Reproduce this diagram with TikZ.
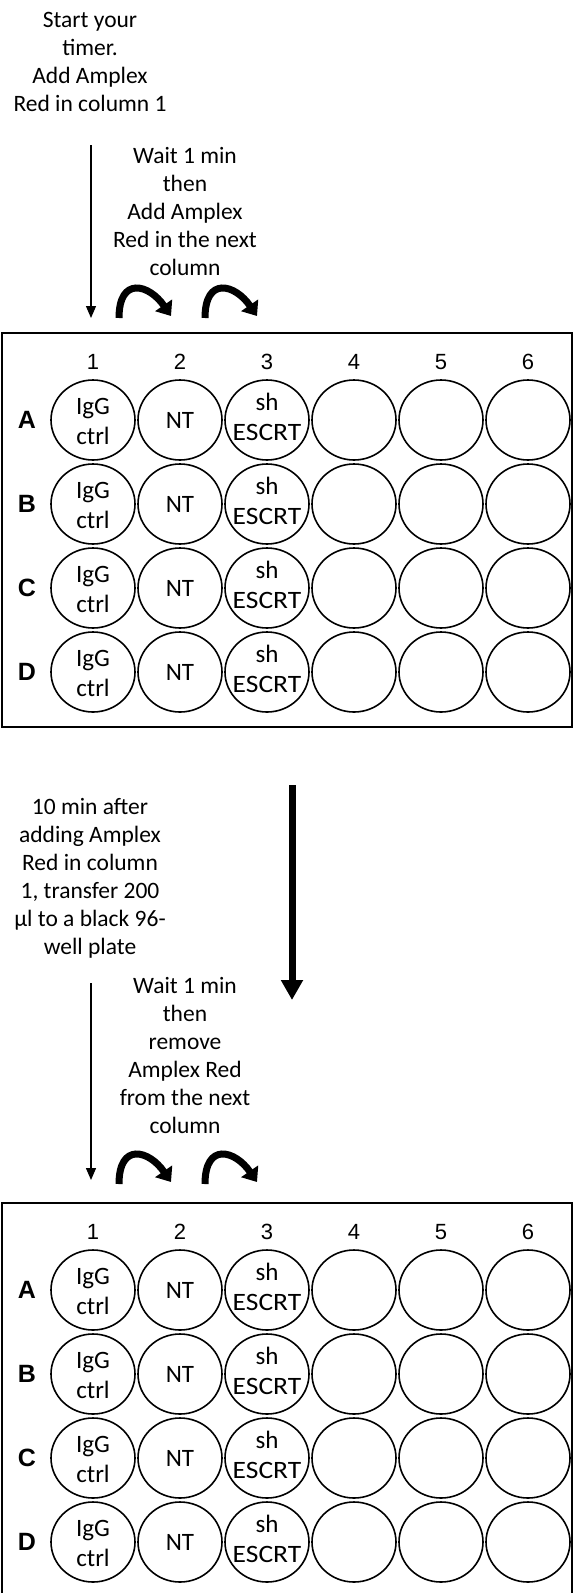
\documentclass[tikz,border=0pt]{standalone}
\usepackage{fontspec}
\setmainfont{Carlito}
\newfontfamily\arialfont{Liberation Sans}
\usetikzlibrary{arrows.meta,shapes.geometric}

\begin{document}
\begin{tikzpicture}[x=1pt,y=-1pt,
  note/.style={align=center, inner sep=0pt, font=\fontsize{23.5}{28}\selectfont},
  welltext/.style={align=center, inner sep=0pt, font=\fontsize{25}{30}\selectfont},
  colhead/.style={inner sep=0pt, font=\arialfont\fontsize{22}{26}\selectfont},
  rowhead/.style={inner sep=0pt, font=\arialfont\bfseries\fontsize{25}{30}\selectfont},
  well/.style={draw, line width=1.6pt, ellipse, minimum width=84pt, minimum height=80pt, inner sep=0pt},
  plate/.style={draw, line width=2pt, rectangle, minimum width=570pt, minimum height=394pt, inner sep=0pt},
  thinarrow/.style={line width=1.3pt, -{Triangle[width=10pt,length=12pt]}},
  thickarrow/.style={line width=7pt, -{Triangle[width=21pt,length=20pt]}},
  turnarrow/.style={line width=7pt, -{Triangle[width=20pt,length=13pt]}}
]
\useasboundingbox (0,0) rectangle (573,1593);
\clip (0,0) rectangle (573,1593);

% instructions
\node[note] (start) at (90,62) {Start your\\timer.\\Add Amplex\\Red in column 1};
\node[note] (wait1) at (185,211) {Wait 1 min\\then\\Add Amplex\\Red in the next\\column};
\node[note] (after) at (90,878) {10 min after\\adding Amplex\\Red in column\\1, transfer 200\\µl to a black 96-\\well plate};
\node[note] (wait2) at (185,1055) {Wait 1 min\\then\\remove\\Amplex Red\\from the next\\column};

% two plates, the second one 870pt further down
\foreach \p/\oy in {a/0, b/870} {
  \node[plate] (plate-\p) at (287,530+\oy) {};
  \foreach \c in {1,...,6} {
    \node[colhead] (col-\p-\c) at (93+87*\c-87,362+\oy) {\c};
  }
  \foreach \r/\lab in {1/A,2/B,3/C,4/D} {
    \node[rowhead] (row-\p-\r) at (27,420+84*\r-84+\oy) {\lab};
    \foreach \c in {1,...,6} {
      \node[well] (well-\p-\r-\c) at (93+87*\c-87,420+84*\r-84+\oy) {};
    }
    \node[welltext] (txt-\p-\r-1) at ([yshift=-1pt]well-\p-\r-1.center) {IgG\\ctrl};
    \node[welltext] (txt-\p-\r-2) at (well-\p-\r-2.center) {NT};
    \node[welltext] (txt-\p-\r-3) at ([yshift=3pt]well-\p-\r-3.center) {sh\\\scalebox{1.1}[1]{ESCRT}};
  }
}

% arrows into column 1
\coordinate (t1s) at (91,145);
\coordinate (t1e) at (91,318);
\draw[thinarrow] (t1s) -- (t1e);
\coordinate (t2s) at (91,983);
\coordinate (t2e) at (91,1180);
\draw[thinarrow] (t2s) -- (t2e);

% arrow between the two steps
\coordinate (bigs) at (292,785);
\coordinate (bige) at (292,1000);
\draw[thickarrow] (bigs) -- (bige);

% column-to-column turn arrows
\foreach \k/\oy in {a/0, b/866} {
  \foreach \i/\ox in {1/0, 2/86} {
    \coordinate (turn-\k-\i-s) at (119+\ox,318+\oy);
    \coordinate (turn-\k-\i-e) at (171+\ox,316+\oy);
    \draw[turnarrow] (turn-\k-\i-s) .. controls +(0,-42) and +(-22,-32) .. (turn-\k-\i-e);
  }
}
\end{tikzpicture}
\end{document}
